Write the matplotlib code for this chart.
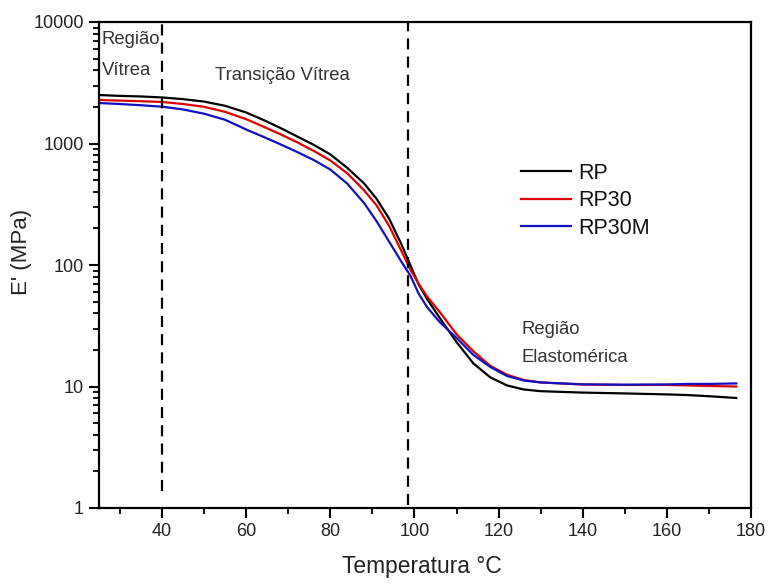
import matplotlib
matplotlib.use("Agg")
import matplotlib.pyplot as plt
from matplotlib.ticker import MultipleLocator, LogLocator, NullFormatter, FixedLocator, FixedFormatter

plt.rcParams['font.family'] = ['Liberation Sans', 'DejaVu Sans']

temperature = [25, 30, 35, 40, 45, 50, 55, 60, 64, 68, 72, 76, 80, 84, 88, 91, 94, 97,
               99, 101, 103, 106, 110, 114, 118, 122, 126, 130, 140, 150, 160, 165, 170, 176.5]
rp = [2506, 2466, 2438, 2393, 2317, 2213, 2042, 1799, 1567, 1349, 1148, 977, 813, 631, 470, 350, 240, 145,
      100, 69, 52.5, 36.7, 23.2, 15.5, 11.9, 10.2, 9.45, 9.15, 8.91, 8.77, 8.61, 8.5, 8.32, 8.04]
rp30 = [2280, 2254, 2228, 2198, 2113, 2004, 1820, 1585, 1380, 1197, 1028, 871, 724, 569, 412, 309, 209, 128,
        92, 70, 55, 41, 26.9, 19.5, 14.8, 12.5, 11.3, 10.8, 10.4, 10.3, 10.3, 10.2, 10.1, 10.0]
rp30m = [2153, 2113, 2065, 2009, 1905, 1758, 1567, 1303, 1138, 989, 855, 733, 610, 468, 324, 229, 155, 105,
         82, 58, 45, 33.9, 25.1, 18.2, 14.5, 12.2, 11.2, 10.8, 10.4, 10.35, 10.4, 10.5, 10.5, 10.6]

series_labels = ["RP", "RP30", "RP30M"]
series_colors = ["#000000", "#e00000", "#1010c0"]

x_ticks = [40, 60, 80, 100, 120, 140, 160, 180]
y_ticks = [1, 10, 100, 1000, 10000]
y_tick_labels = ["1", "10", "100", "1000", "10000"]

boundary_1 = 40
boundary_2 = 98.5

fig = plt.figure(figsize=(7.69, 5.84), dpi=100)
ax = fig.add_axes([99/769, 1-508/584, (751-99)/769, (508-22)/584])

for vals, lab, col in zip([rp, rp30, rp30m], series_labels, series_colors):
    ax.plot(temperature, vals, color=col, lw=1.6, label=lab, solid_joinstyle='round')

ax.plot([boundary_1, boundary_1], [1.38, 10000], color='black', lw=1.6, dashes=(5, 3.2))
ax.plot([boundary_2, boundary_2], [1.05, 10000], color='black', lw=1.6, dashes=(5, 3.2))

ax.set_yscale('log')
ax.set_xlim(25, 180)
ax.set_ylim(1, 10000)

ax.xaxis.set_major_locator(FixedLocator(x_ticks))
ax.xaxis.set_minor_locator(MultipleLocator(10))
ax.yaxis.set_major_locator(FixedLocator(y_ticks))
ax.yaxis.set_major_formatter(FixedFormatter(y_tick_labels))
ax.yaxis.set_minor_locator(LogLocator(base=10, subs=range(2, 10)))
ax.yaxis.set_minor_formatter(NullFormatter())

ax.tick_params(which='major', direction='out', length=7, width=1.5, labelsize=13,
               labelcolor='#222222', pad=4)
ax.tick_params(which='minor', direction='out', length=4, width=1.3)
ax.tick_params(top=False, right=False, which='both')
for s in ax.spines.values():
    s.set_linewidth(1.6)

ax.set_xlabel("Temperatura °C", fontsize=16.4, color='#222222')
ax.set_ylabel("E' (MPa)", fontsize=16, color='#222222')
ax.xaxis.set_label_coords((422-99)/652, -(566-508)/486, transform=ax.transAxes)
ax.xaxis.label.set_va('center')
ax.yaxis.set_label_coords(-0.102, (508-252)/486)

tc = '#333333'
fs = 13.3
ax.text(25.6, 7110, "Região", fontsize=fs, color=tc, va='center', ha='left')
ax.text(25.6, 4025, "Vítrea", fontsize=fs, color=tc, va='center', ha='left')
ax.text(52.6, 3660, "Transição Vítrea", fontsize=fs, color=tc, va='center', ha='left')
ax.text(125.4, 29.2, "Região", fontsize=fs, color=tc, va='center', ha='left')
ax.text(125.4, 17.2, "Elastomérica", fontsize=fs, color=tc, va='center', ha='left')

leg = ax.legend(loc='upper left', bbox_to_anchor=((521-99)/652, (508-163)/486),
                frameon=False, fontsize=15.5, handlelength=2.3, handletextpad=0.35,
                labelspacing=0.3, borderpad=0, borderaxespad=0)
for t in leg.get_texts():
    t.set_color('#111111')

fig.savefig("out.png", dpi=100)
